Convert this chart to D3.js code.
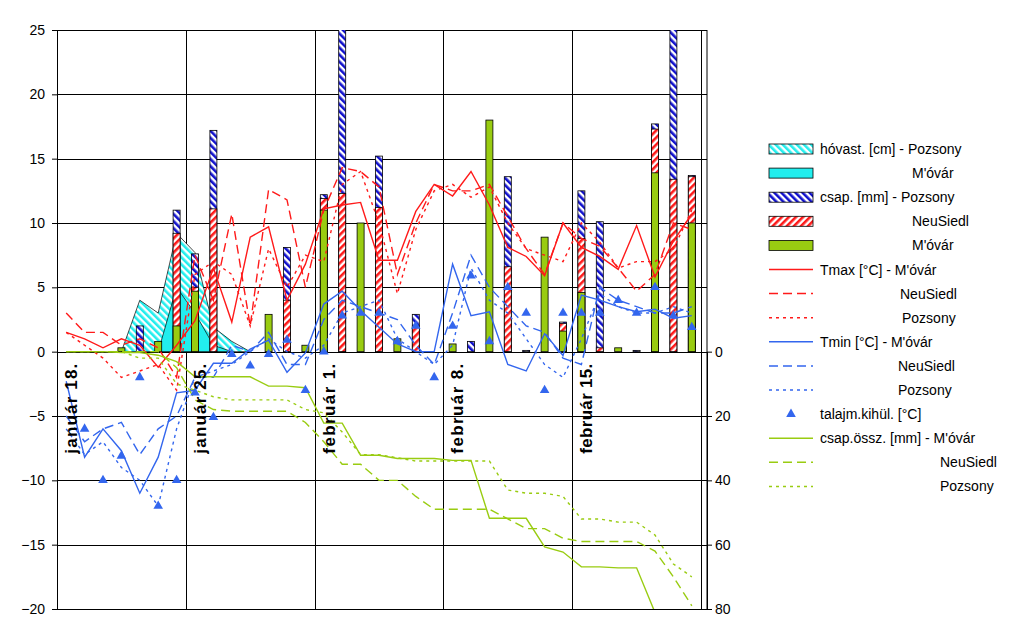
<!DOCTYPE html>
<html><head><meta charset="utf-8">
<script src="https://cdn.jsdelivr.net/npm/d3@7"></script>
<style>
body{margin:0;background:#fff}
text{font-family:Arial,"Liberation Sans",sans-serif;font-size:14px}
</style></head>
<body><div id="box-div"></div>
<script>
// day 0 = január 18.
const dateLabels = [{day: 0, text: 'január 18.'}, {day: 7, text: 'január 25.'}, {day: 14, text: 'február 1.'}, {day: 21, text: 'február 8.'}, {day: 28, text: 'február 15.'}]
const leftTicks = [-20, -15, -10, -5, 0, 5, 10, 15, 20, 25]
const rightTicks = [0, 20, 40, 60, 80]

// precipitation bars [mm], index = day
const csapPozsony = [0,0,0,0,2.0,0,11.0,7.6,17.2,0,0,0,8.1,0,12.2,28,0,15.2,0,2.9,0,0,0.8,0,13.6,0.1,0,2.3,12.5,10.1,0,0.1,17.7,28,13.7]
const csapNeuSiedl = [0,0,0,0,0,0,9.2,5.0,11.1,0,0,0,4.0,0,11.9,12.3,0,11.2,0,2.0,0,0,0,0,6.6,0,0,2.2,8.8,0.3,0,0,17.3,13.4,13.6]
const csapMovar = [0,0,0,0.3,0,0.8,2.0,4.7,0,0,0,2.9,0,0.5,11.0,0,10.0,0,1.0,0,0,0.6,0,18.0,0,0,8.9,1.6,4.6,0,0.3,0,13.9,0,10.0]

// snow depth [cm]
const hoPozsony = [[3,0],[4,4.0],[5,3.0],[6,9.2],[7,7.7],[8,1.9],[9,0.8],[10,0]]
const hoMovar = [[5,0],[6,5.0],[7,3.0],[8,0.5],[9,0]]

// temperatures [°C]
const tmaxMovar = [1.5,1.0,0.3,1.0,0.5,-1.2,0.5,2.4,6.5,2.3,8.9,9.7,4.0,6.8,11.1,11.4,11.6,7.1,7.1,10.9,13.0,12.1,14.0,11.4,8.1,7.4,5.9,10.0,8.1,7.4,6.4,9.8,5.8,8.6,10.7]
const tmaxNeuSiedl = [3,1.5,1.5,0.5,1.0,0.3,-2.0,7.5,4,10.7,2,12.6,11.8,5,11,14.3,14,12.8,6,10,13,12.5,12.5,13,10.5,8,6,10,8.8,8.2,6.5,4.7,6,10,9.5]
const tmaxPozsony = [1.5,0.5,-0.5,-2,-1.5,-1,-3,6,7,6,2,8,5,7.5,7,13,14,10,4.5,9.5,12.5,13,12,12.8,10,8,7.5,7,10,8.5,6.5,7,7,8,11]
const tminMovar = [-2.3,-8.2,-6.0,-7.7,-11,-8.2,-3.2,-3.0,-0.9,-0.9,0.2,0.9,-1.6,-0.1,3.7,4.7,3.2,1.9,0.6,0,0,6.8,2.8,3.1,-1,-1.5,1.4,-0.3,4.4,4.0,3.5,3.1,3.3,2.6,2.8]
const tminNeuSiedl = [-5,-7,-6,-5.5,-8,-6,-5,-2,-2,0.5,0,1.5,-1,-1,2.5,4,3.5,3,2.5,0.5,-1,3,7.5,5,3.5,2,1.5,-0.5,-1,5,4,3.5,3,3,3.5]
const tminPozsony = [-6,-8,-7,-9,-10,-12,-6,-2,-1.5,-1,0,1,0,-0.5,0.5,3,3.5,4,1,0,-1,0.5,6.5,4,3,1,-1,-2,1,4.5,3.5,3,3,3.5,3]
const talaj = [null,-6.0,-10,-8.1,-2.0,-12,-10,-3.2,-5.1,-0.2,-1.1,-0.2,0.9,-3.0,0,2.8,3.0,3.0,0.8,2.0,-2.0,2.0,5.9,0.8,5.0,3.0,-3.0,3.0,3.0,3.0,4.0,3.0,5.0,2.8,1.9]

// cumulative precipitation [mm], right axis
const osszMovar = [0,0,0,0.3,0.3,1.1,3.1,7.8,7.8,7.8,7.8,10.7,10.7,11.2,22.2,22.2,32.2,32.2,33.2,33.2,33.2,33.8,33.8,51.8,51.8,51.8,60.7,62.3,66.9,66.9,67.2,67.2,81.1,81.1,91.1]
const osszNeuSiedl = [0,0,0,0,0,0,5,15,18,18.5,18.5,18.5,18.5,22,28,35,35,40,40,45,49,49,49,49,52,55,55,58,59,59,59,59,62,70,79]
const osszPozsony = [0,0,0,0,2,2,10,12,14,15,15,15,15,18,19,25,32,32,33,34,34,34,34,34,43,44,44,45,52,52,53,53,57,66,70]

const RED = '#ff1a1a', BLUE = '#3366ee', GREEN = '#99cc11', CYAN = '#22eeee', NAVY = '#1111cc'

const dms = {width: 1024, height: 637, left: 57, right: 707, top: 30, bottom: 609}

const svg = d3.select('#box-div').append('svg')
    .attr('width', dms.width)
    .attr('height', dms.height)

const defs = svg.append('defs')
function hatch(id, color, angle) {
    const p = defs.append('pattern').attr('id', id)
        .attr('patternUnits', 'userSpaceOnUse').attr('width', 5).attr('height', 5)
        .attr('patternTransform', `rotate(${angle})`)
    p.append('rect').attr('width', 5).attr('height', 5).attr('fill', '#fff')
    p.append('rect').attr('width', 2.6).attr('height', 5).attr('fill', color)
}
hatch('h-cyan', CYAN, -45)
hatch('h-navy', NAVY, -45)
hatch('h-red', RED, 45)
defs.append('clipPath').attr('id', 'clip').append('rect')
    .attr('x', dms.left).attr('y', dms.top)
    .attr('width', dms.right - dms.left).attr('height', dms.bottom - dms.top)

const x = d3.scaleLinear().domain([0, 35]).range([dms.left, 701])
const y = d3.scaleLinear().domain([-20, 25]).range([dms.bottom, dms.top])
const y2 = d3.scaleLinear().domain([0, 80]).range([y(0), dms.bottom])
const xc = i => x(i + 0.5)

// grid
const grid = svg.append('g').attr('stroke', '#000').attr('stroke-width', 1)
grid.selectAll('.h').data(leftTicks).join('line')
    .attr('x1', dms.left).attr('x2', dms.right)
    .attr('y1', d => Math.round(y(d)) + 0.5).attr('y2', d => Math.round(y(d)) + 0.5)
grid.selectAll('.v').data([7, 14, 21, 28, 35]).join('line')
    .attr('x1', d => Math.round(x(d)) + 0.5).attr('x2', d => Math.round(x(d)) + 0.5)
    .attr('y1', dms.top).attr('y2', dms.bottom)

// axes
const leftAxis = svg.append('g').attr('transform', `translate(${dms.left},0)`)
    .call(d3.axisLeft(y).tickValues(leftTicks).tickSize(5).tickSizeOuter(0))
const rightAxis = svg.append('g').attr('transform', `translate(${dms.right},0)`)
    .call(d3.axisRight(y2).tickValues(rightTicks).tickSize(5).tickSizeOuter(0))
svg.append('line').attr('x1', dms.right).attr('x2', dms.right)
    .attr('y1', dms.top).attr('y2', dms.bottom).attr('stroke', '#000')
;[leftAxis, rightAxis].forEach(a => {
    a.selectAll('text').style('font-size', '14px').attr('fill', '#000')
    a.select('.domain').attr('stroke', '#000')
})
leftAxis.selectAll('text').attr('x', -12)
rightAxis.selectAll('text').attr('x', 8)

const plot = svg.append('g').attr('clip-path', 'url(#clip)')

// snow areas
const area = d3.area().x(d => xc(d[0])).y0(y(0)).y1(d => y(d[1]))
plot.append('path').attr('d', area(hoPozsony))
    .attr('fill', 'url(#h-cyan)').attr('stroke', '#000').attr('stroke-width', 0.7)
plot.append('path').attr('d', area(hoMovar))
    .attr('fill', CYAN).attr('stroke', '#000').attr('stroke-width', 0.7)

// bars, overlapping
const bw = 7
;[[csapPozsony, 'url(#h-navy)'], [csapNeuSiedl, 'url(#h-red)'], [csapMovar, GREEN]].forEach(([vals, fill]) => {
    plot.append('g').selectAll('rect')
        .data(vals.map((v, i) => ({v, i})).filter(d => d.v > 0))
        .join('rect')
        .attr('x', d => xc(d.i) - bw / 2)
        .attr('width', bw)
        .attr('y', d => y(d.v))
        .attr('height', d => y(0) - y(d.v))
        .attr('fill', fill).attr('stroke', '#000').attr('stroke-width', 0.8)
})

// lines
function drawLine(vals, scale, color, dash) {
    const gen = d3.line().defined(v => v !== null).x((v, i) => xc(i)).y(v => scale(v))
    plot.append('path').attr('d', gen(vals))
        .attr('fill', 'none').attr('stroke', color).attr('stroke-width', 1.4)
        .attr('stroke-dasharray', dash)
}
const DASH = '9,5', DOT = '3,4'
drawLine(tmaxMovar, y, RED, null)
drawLine(tmaxNeuSiedl, y, RED, DASH)
drawLine(tmaxPozsony, y, RED, DOT)
drawLine(tminMovar, y, BLUE, null)
drawLine(tminNeuSiedl, y, BLUE, DASH)
drawLine(tminPozsony, y, BLUE, DOT)
drawLine(osszMovar, y2, GREEN, null)
drawLine(osszNeuSiedl, y2, GREEN, DASH)
drawLine(osszPozsony, y2, GREEN, DOT)

const tri = d3.symbol().type(d3.symbolTriangle).size(40)
plot.append('g').selectAll('path')
    .data(talaj.map((v, i) => ({v, i})).filter(d => d.v !== null))
    .join('path')
    .attr('d', tri)
    .attr('transform', d => `translate(${xc(d.i)},${y(d.v)})`)
    .attr('fill', BLUE)

// date labels
svg.append('g').selectAll('text').data(dateLabels).join('text')
    .attr('transform', d => `translate(${x(d.day) + 20},${y(0) + 12}) rotate(-90)`)
    .attr('text-anchor', 'end')
    .style('font-weight', 'bold')
    .style('font-size', '17px')
    .attr('textLength', 90)
    .text(d => d.text)

// legend
const legendRows = [
    {type: 'rect', fill: 'url(#h-cyan)', text: 'hóvast. [cm] - Pozsony', tx: 820},
    {type: 'rect', fill: CYAN, text: "M'óvár", tx: 912},
    {type: 'rect', fill: 'url(#h-navy)', text: 'csap. [mm] -  Pozsony', tx: 820},
    {type: 'rect', fill: 'url(#h-red)', text: 'NeuSiedl', tx: 912},
    {type: 'rect', fill: GREEN, text: "M'óvár", tx: 912},
    {type: 'line', color: RED, dash: null, text: "Tmax [°C] - M'óvár", tx: 820},
    {type: 'line', color: RED, dash: DASH, text: 'NeuSiedl', tx: 900},
    {type: 'line', color: RED, dash: DOT, text: 'Pozsony', tx: 902},
    {type: 'line', color: BLUE, dash: null, text: "Tmin [°C] - M'óvár", tx: 820},
    {type: 'line', color: BLUE, dash: DASH, text: 'NeuSiedl', tx: 898},
    {type: 'line', color: BLUE, dash: DOT, text: 'Pozsony', tx: 898},
    {type: 'tri', text: 'talajm.kihül. [°C]', tx: 820},
    {type: 'line', color: GREEN, dash: null, text: "csap.össz. [mm] - M'óvár", tx: 820},
    {type: 'line', color: GREEN, dash: DASH, text: 'NeuSiedl', tx: 940},
    {type: 'line', color: GREEN, dash: DOT, text: 'Pozsony', tx: 940}
]
const legend = svg.append('g')
legendRows.forEach((r, i) => {
    const ly = 149 + i * 24.1
    const g = legend.append('g')
    if (r.type === 'rect') {
        g.append('rect').attr('x', 769).attr('y', ly - 5).attr('width', 44).attr('height', 10)
            .attr('fill', r.fill).attr('stroke', '#000').attr('stroke-width', 0.8)
    } else if (r.type === 'line') {
        g.append('line').attr('x1', 769).attr('x2', 813).attr('y1', ly).attr('y2', ly)
            .attr('stroke', r.color).attr('stroke-width', 1.5).attr('stroke-dasharray', r.dash)
    } else {
        g.append('path').attr('d', tri).attr('transform', `translate(791,${ly})`).attr('fill', BLUE)
    }
    g.append('text').attr('x', r.tx).attr('y', ly + 5).text(r.text)
})
</script>
</body></html>
